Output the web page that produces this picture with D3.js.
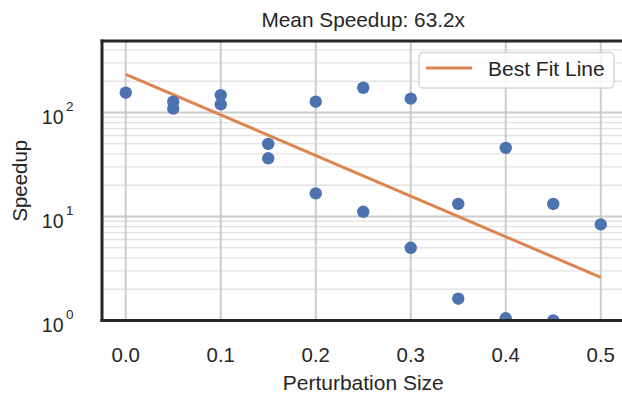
<!DOCTYPE html>
<html><head><meta charset="utf-8">
<script src="https://cdn.jsdelivr.net/npm/d3@7"></script>
<style>
html,body{margin:0;padding:0;background:#fff;overflow:hidden}
text{font-family:"Liberation Sans",Arial,sans-serif;fill:#262626}
</style></head>
<body><svg id="c" width="622" height="394"></svg>
<script>
const perturbation = [0.0, 0.05, 0.05, 0.1, 0.1, 0.15, 0.15, 0.2, 0.2, 0.25, 0.25, 0.3, 0.3, 0.35, 0.35, 0.4, 0.4, 0.45, 0.45, 0.5];
const speedup = [155, 127, 109, 147, 120, 49.8, 36.3, 127, 16.7, 173, 11.1, 136, 5.0, 13.2, 1.62, 45.7, 1.05, 13.2, 1.0, 8.4];
const fitX = [0.0, 0.5];
const fitY = [233, 2.6];
const xTicks = [0.0, 0.1, 0.2, 0.3, 0.4, 0.5];
const yTicks = [1, 10, 100];
const yExponents = ["0", "1", "2"];
const titleText = "Mean Speedup: 63.2x";
const xLabel = "Perturbation Size";
const yLabel = "Speedup";
const legendLabel = "Best Fit Line";

const svg = d3.select("#c");
const L = 102, R = 624.5, T = 41, B = 320.5;
const x = d3.scaleLinear().domain([-0.025, 0.525]).range([L, R]);
const y = d3.scaleLog().domain([1, 487]).range([B, T]);

svg.append("defs").append("clipPath").attr("id", "clip")
  .append("rect").attr("x", L).attr("y", T).attr("width", R - L).attr("height", B - T);

const grid = svg.append("g");
const minor = [];
for (let d = 1; d <= 100; d *= 10) for (let k = 2; k <= 9; k++) if (d * k < 487) minor.push(d * k);
grid.selectAll(".mn").data(minor).join("line")
  .attr("x1", L).attr("x2", R).attr("y1", d => y(d)).attr("y2", d => y(d))
  .attr("stroke", "#e3e3e3").attr("stroke-width", 1.4);
grid.selectAll(".mj").data(yTicks).join("line")
  .attr("x1", L).attr("x2", R).attr("y1", d => y(d)).attr("y2", d => y(d))
  .attr("stroke", "#cccccc").attr("stroke-width", 2);
grid.selectAll(".vx").data(xTicks).join("line")
  .attr("x1", d => x(d)).attr("x2", d => x(d)).attr("y1", T).attr("y2", B)
  .attr("stroke", "#cccccc").attr("stroke-width", 2);

const plot = svg.append("g").attr("clip-path", "url(#clip)");
plot.append("path")
  .datum(fitX.map((v, i) => [v, fitY[i]]))
  .attr("d", d3.line().x(d => x(d[0])).y(d => y(d[1])))
  .attr("fill", "none").attr("stroke", "#dd8452").attr("stroke-width", 3);
plot.selectAll("circle").data(perturbation.map((v, i) => [v, speedup[i]])).join("circle")
  .attr("cx", d => x(d[0])).attr("cy", d => y(d[1])).attr("r", 6.2)
  .attr("fill", "#4c72b0");

const sp = svg.append("g").attr("stroke", "#262626").attr("stroke-width", 3).attr("stroke-linecap", "square");
sp.append("line").attr("x1", L).attr("x2", L).attr("y1", T).attr("y2", B);
sp.append("line").attr("x1", L).attr("x2", R).attr("y1", T).attr("y2", T);
sp.append("line").attr("x1", L).attr("x2", R).attr("y1", B).attr("y2", B);
sp.append("line").attr("x1", R).attr("x2", R).attr("y1", T).attr("y2", B);

svg.selectAll(".xt").data(xTicks).join("text")
  .attr("x", d => x(d)).attr("y", 361.7).attr("text-anchor", "middle")
  .attr("font-size", 20.4).text(d => d3.format(".1f")(d));

const yt = svg.selectAll(".yt").data(yTicks).join("text")
  .attr("x", 73.5).attr("y", d => y(d) + 11.8).attr("text-anchor", "end").attr("font-size", 19.5);
yt.append("tspan").text("10");
yt.append("tspan").attr("dy", -13.3).attr("dx", 2.5).attr("font-size", 13.5).text((d, i) => yExponents[i]);

svg.append("text").attr("x", (L + R) / 2).attr("y", 390).attr("text-anchor", "middle")
  .attr("font-size", 21).text(xLabel);
svg.append("text").attr("transform", `translate(27,${(T + B) / 2}) rotate(-90)`)
  .attr("text-anchor", "middle").attr("font-size", 20.4).text(yLabel);
svg.append("text").attr("x", (L + R) / 2).attr("y", 26.7).attr("text-anchor", "middle")
  .attr("font-size", 20.8).text(titleText);

const lg = svg.append("g");
lg.append("rect").attr("x", 419).attr("y", 52.5).attr("width", 195).attr("height", 35.5)
  .attr("rx", 4).attr("fill", "rgba(255,255,255,0.8)").attr("stroke", "#d6d6d6").attr("stroke-width", 1.5);
lg.append("line").attr("x1", 426).attr("x2", 472).attr("y1", 68).attr("y2", 68)
  .attr("stroke", "#dd8452").attr("stroke-width", 3);
lg.append("text").attr("x", 488).attr("y", 75.5).attr("font-size", 21).text(legendLabel);
</script></body></html>
